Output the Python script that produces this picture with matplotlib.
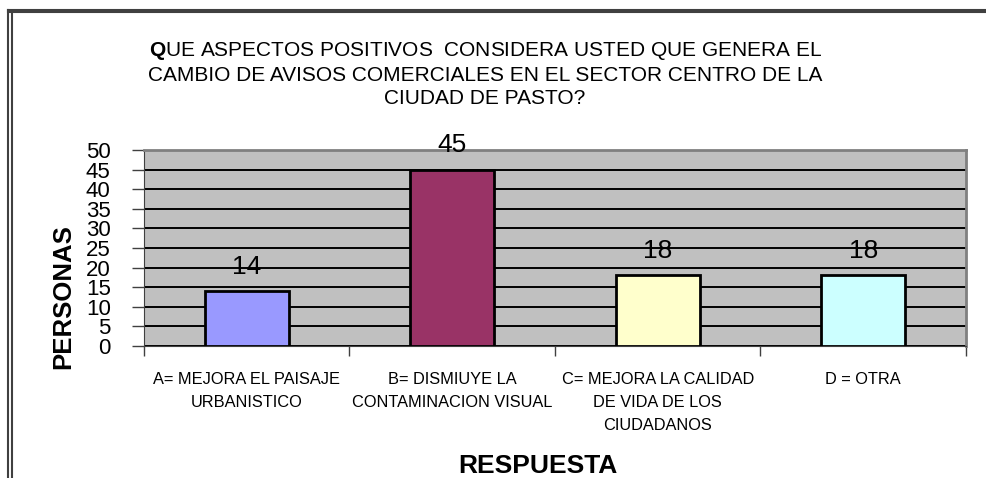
import matplotlib.pyplot as plt
from matplotlib.lines import Line2D

# data
categorias = ["A= MEJORA EL PAISAJE\nURBANISTICO",
              "B= DISMIUYE LA\nCONTAMINACION VISUAL",
              "C= MEJORA LA CALIDAD\nDE VIDA DE LOS\nCIUDADANOS",
              "D = OTRA"]
personas = [14, 45, 18, 18]
colores = ["#9999FF", "#993366", "#FFFFCC", "#CCFFFF"]
yticks = list(range(0, 55, 5))

plt.rcParams['font.family'] = ['Liberation Sans', 'DejaVu Sans']
plt.rcParams['mathtext.fontset'] = 'custom'
plt.rcParams['mathtext.bf'] = 'Liberation Sans:bold'

fig = plt.figure(figsize=(9.87, 4.78), dpi=100)
ax = fig.add_axes([144/987, 1 - 346/478, (966-144)/987, (346-150)/478])
ax.set_facecolor("#C0C0C0")

x = range(len(personas))
bars = ax.bar(x, personas, width=0.41, color=colores, edgecolor="black",
              linewidth=2, zorder=3)
for xi, v in zip(x, personas):
    ax.annotate(str(v), (xi, v), xytext=(0, 12.5), textcoords="offset points",
                ha="center", va="baseline", fontsize=19, zorder=4)

ax.set_xlim(-0.5, len(personas) - 0.5)
ax.set_ylim(0, 50)
ax.set_yticks(yticks)
ax.set_yticklabels([str(t) for t in yticks], fontsize=16)
ax.yaxis.grid(True, color="black", linewidth=1.4, zorder=1)
ax.set_axisbelow(True)

# category ticks sit between the bars
ax.set_xticks([i - 0.5 for i in range(len(personas) + 1)])
ax.set_xticklabels([])
ax.set_xticks(list(x), minor=True)
ax.set_xticklabels(categorias, minor=True, fontsize=11.8, linespacing=1.65, va="top")
ax.tick_params(axis="x", which="minor", length=0, pad=19)
ax.tick_params(axis="x", which="major", length=7, width=1, color="#404040")
ax.tick_params(axis="y", length=9, width=1, color="#404040", pad=15)

for s in ["top", "right"]:
    ax.spines[s].set_color("#808080")
    ax.spines[s].set_linewidth(2)
ax.spines["left"].set_color("#404040")
ax.spines["bottom"].set_color("#404040")

fig.text(63/987, 1 - 297/478, "PERSONAS", rotation=90, ha="center", va="center",
         fontsize=18.5, fontweight="bold")
fig.text(538/987, 1 - 466/478, "RESPUESTA", ha="center", va="center",
         fontsize=19, fontweight="bold")

titulo = (r"$\mathbf{Q}$UE ASPECTOS POSITIVOS  CONSIDERA USTED QUE GENERA EL" + "\n"
          "CAMBIO DE AVISOS COMERCIALES EN EL SECTOR CENTRO DE LA\n"
          "CIUDAD DE PASTO?")
fig.text(485/987, 1 - 74/478, titulo, ha="center", va="center", fontsize=15,
         linespacing=1.3)

# double frame around the chart
for xx in [8.5, 11.5]:
    fig.add_artist(Line2D([xx/987, xx/987], [0, 1 - (xx + 1)/478],
                          color="#404040", linewidth=1.5))
for yy in [9.5, 12]:
    fig.add_artist(Line2D([8.5/987, 1], [1 - yy/478, 1 - yy/478],
                          color="#404040", linewidth=1.5))

fig.savefig("out.png", dpi=100)
